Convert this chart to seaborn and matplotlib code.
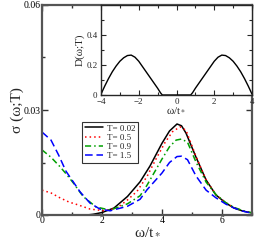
import numpy as np
import pandas as pd
import matplotlib
matplotlib.use("Agg")
import matplotlib.pyplot as plt
import seaborn as sns

# Main panel: sigma(omega;T)
w_black = [0.0, 1.0, 1.5, 1.7, 2.0, 2.4, 2.85, 3.27, 3.6, 4.0, 4.25, 4.5, 4.65, 4.8, 5.13, 5.47, 5.8, 6.13, 6.4, 6.7, 7.0]
s_black = [0.0, 0.0, 0.0, 0.0002, 0.0007, 0.002, 0.0053, 0.0095, 0.014, 0.0205, 0.024, 0.026, 0.0255, 0.0234, 0.0166, 0.010, 0.0057, 0.0034, 0.002, 0.0011, 0.0006]

w_red = [0.0, 0.3, 0.6, 0.9, 1.2, 1.6, 2.07, 2.5, 2.85, 3.17, 3.5, 3.8, 4.1, 4.35, 4.6, 4.8, 5.13, 5.47, 5.8, 6.13, 6.4, 6.7, 7.0]
s_red = [0.0071, 0.0063, 0.0049, 0.0037, 0.0029, 0.0017, 0.0012, 0.002, 0.0043, 0.0068, 0.011, 0.016, 0.0207, 0.0238, 0.0252, 0.0242, 0.0168, 0.010, 0.0058, 0.0035, 0.0021, 0.0012, 0.0006]

w_green = [0.0, 0.3, 0.6, 0.8, 1.04, 1.37, 1.8, 2.27, 2.85, 3.27, 3.5, 4.0, 4.25, 4.47, 4.65, 4.85, 5.13, 5.47, 5.8, 6.13, 6.4, 6.7, 7.0]
s_green = [0.0186, 0.0165, 0.0138, 0.0118, 0.0092, 0.0053, 0.0023, 0.0014, 0.0032, 0.0055, 0.0085, 0.0160, 0.0195, 0.0214, 0.0217, 0.0208, 0.0152, 0.0094, 0.0058, 0.0035, 0.0022, 0.0012, 0.0006]

w_blue = [0.0, 0.3, 0.55, 0.8, 1.27, 1.6, 1.93, 2.27, 2.85, 3.27, 3.5, 4.0, 4.25, 4.5, 4.65, 4.85, 5.13, 5.47, 5.8, 6.13, 6.4, 6.7, 7.0]
s_blue = [0.0237, 0.0214, 0.0172, 0.0125, 0.0066, 0.0034, 0.0017, 0.0012, 0.0025, 0.0045, 0.0072, 0.0120, 0.0150, 0.0167, 0.0168, 0.0158, 0.0112, 0.0071, 0.0049, 0.0031, 0.002, 0.0011, 0.0005]

labels = ["T= 0.02", "T= 0.5", "T= 0.9", "T= 1.5"]

# Inset: D(omega;T)
w_dos = [-4.0, -3.9, -3.8, -3.6, -3.4, -3.2, -3.0, -2.8, -2.6, -2.4, -2.2, -2.0, -1.75, -1.5, -1.25, -1.0, -0.85, -0.75,
         0.0,
         0.75, 0.85, 1.0, 1.25, 1.5, 1.75, 2.0, 2.2, 2.4, 2.6, 2.8, 3.0, 3.2, 3.4, 3.6, 3.8, 3.9, 4.0]
d_dos = [0.005, 0.033, 0.06, 0.11, 0.155, 0.193, 0.225, 0.248, 0.263, 0.266, 0.252, 0.225, 0.18, 0.135, 0.09, 0.045, 0.015, 0.0,
         0.0,
         0.0, 0.015, 0.045, 0.09, 0.135, 0.18, 0.225, 0.252, 0.266, 0.263, 0.248, 0.225, 0.193, 0.155, 0.11, 0.06, 0.033, 0.005]

sns.set_style("ticks")
plt.rcParams['font.family'] = ['Liberation Serif', 'DejaVu Serif']
plt.rcParams['mathtext.fontset'] = 'stix'

fig = plt.figure(figsize=(2.56, 2.46), dpi=100)
ax = fig.add_axes([42/256, 1-215/246, 210/256, 210/246])

series = [(w_black, s_black, 'black', '-'),
          (w_red, s_red, 'red', (0, (1, 2))),
          (w_green, s_green, '#00a000', (0, (4, 2, 1, 2))),
          (w_blue, s_blue, 'blue', (0, (5, 2.5)))]
for (w, s, c, ls), lab in zip(series, labels):
    df = pd.DataFrame({'w': w, 's': s})
    sns.lineplot(data=df, x='w', y='s', ax=ax, color=c, lw=1.1, label=lab, sort=False)
    ax.lines[-1].set_linestyle(ls)

ax.set_xlim(0, 7)
ax.set_ylim(0, 0.06)
ax.set_xticks([0, 2, 4, 6])
ax.set_xticks([1, 3, 5, 7], minor=True)
ax.set_yticks([0, 0.03, 0.06])
ax.set_yticklabels(['0', '0.03', '0.06'])
ax.set_yticks([0.015, 0.045], minor=True)
ax.tick_params(direction='in', which='both', top=True, right=True, labelsize=7, pad=1, colors='#333333', labelcolor='black')
ax.tick_params(which='major', length=4, width=1)
ax.tick_params(which='minor', length=2, width=1)
for sp in ax.spines.values():
    sp.set_linewidth(1.6)
    sp.set_color('#555555')
ax.set_xlabel(r'ω/t$_*$', fontsize=11, labelpad=0)
ax.set_ylabel('σ (ω;T)', fontsize=11, labelpad=0)

leg = ax.legend(loc='upper left', bbox_to_anchor=(0.19, 0.445), fontsize=6.5, frameon=True,
                fancybox=False, edgecolor='black', borderpad=0.3, labelspacing=0.1,
                handlelength=2.0, handletextpad=0.5, borderaxespad=0)
leg.get_frame().set_linewidth(0.8)

ins = fig.add_axes([101/256, 1-95/246, 151/256, 90/246])
dfd = pd.DataFrame({'w': w_dos, 'd': d_dos})
sns.lineplot(data=dfd, x='w', y='d', ax=ins, color='black', lw=1.0, sort=False)
ins.set_xlim(-4, 4)
ins.set_ylim(0, 0.6)
ins.set_xticks([-4, -2, 0, 2, 4])
ins.set_xticks([-3, -1, 1, 3], minor=True)
ins.set_yticks([0, 0.2, 0.4])
ins.set_yticklabels(['0', '0.2', '0.4'])
ins.set_yticks([0.1, 0.3, 0.5], minor=True)
ins.tick_params(direction='in', which='both', top=True, right=True, labelsize=6.5)
ins.tick_params(axis='x', pad=2)
ins.tick_params(axis='y', pad=2.5)
ins.tick_params(which='major', length=3.5, width=0.8)
ins.tick_params(which='minor', length=2, width=0.8)
for sp in ins.spines.values():
    sp.set_linewidth(1.0)
ins.set_xlabel(r'ω/t$_*$', fontsize=8, labelpad=0)
ins.set_ylabel('D(ω;T)', fontsize=8, labelpad=1)

fig.savefig('out.png', dpi=100)
